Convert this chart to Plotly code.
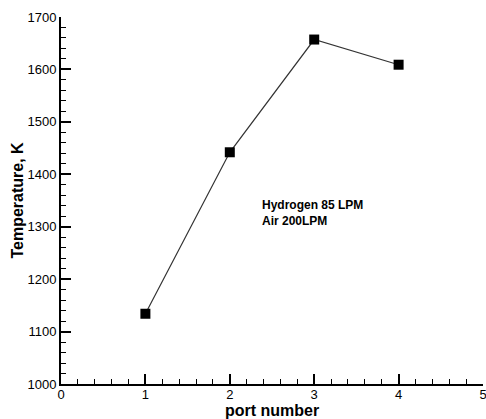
import plotly.graph_objects as go

ports = [1, 2, 3, 4]
temperature = [1134, 1442, 1657, 1609]
note_lines = ["Hydrogen 85 LPM", "Air 200LPM"]
x_title = "port number"
y_title = "Temperature, K"
x_ticks = [0, 1, 2, 3, 4, 5]
y_ticks = [1000, 1100, 1200, 1300, 1400, 1500, 1600, 1700]

FONT = "Liberation Sans, Arial, sans-serif"

fig = go.Figure()
fig.add_trace(go.Scatter(
    x=ports, y=temperature, mode="lines+markers",
    line=dict(color="#333333", width=1.2),
    marker=dict(symbol="square", size=10, color="black"),
    cliponaxis=False,
))

axis_common = dict(
    showgrid=False, zeroline=False, showline=True, linecolor="black", linewidth=2,
    ticks="inside", ticklen=10, tickwidth=2, tickcolor="black",
    tickfont=dict(family=FONT, size=13, color="black"),
    mirror=False, ticklabeloverflow="allow", automargin=False,
)

fig.update_xaxes(
    range=[0, 5], tickvals=x_ticks,
    minor=dict(dtick=0.2, ticks="inside", ticklen=5, tickwidth=1, tickcolor="black"),
    title=dict(text="<b>%s</b>" % x_title, font=dict(family=FONT, size=16, color="black"), standoff=0),
    ticklabelstandoff=-3,
    **axis_common,
)
fig.update_yaxes(
    range=[1000, 1700], tickvals=y_ticks,
    minor=dict(dtick=20, ticks="inside", ticklen=5, tickwidth=1, tickcolor="black"),
    title=dict(text="<b>%s</b>" % y_title, font=dict(family=FONT, size=16, color="black"), standoff=0),
    **axis_common,
)

fig.add_annotation(
    x=2.36, y=1327, xref="x", yref="y", text="<b>%s</b>" % "<br>".join(note_lines),
    showarrow=False, xanchor="left", yanchor="middle", align="left",
    font=dict(family=FONT, size=12, color="black"),
)

fig.update_layout(
    width=486, height=419,
    margin=dict(l=61, r=3, t=17, b=35),
    paper_bgcolor="white", plot_bgcolor="white",
    showlegend=False,
)

fig.write_html("out.html")
